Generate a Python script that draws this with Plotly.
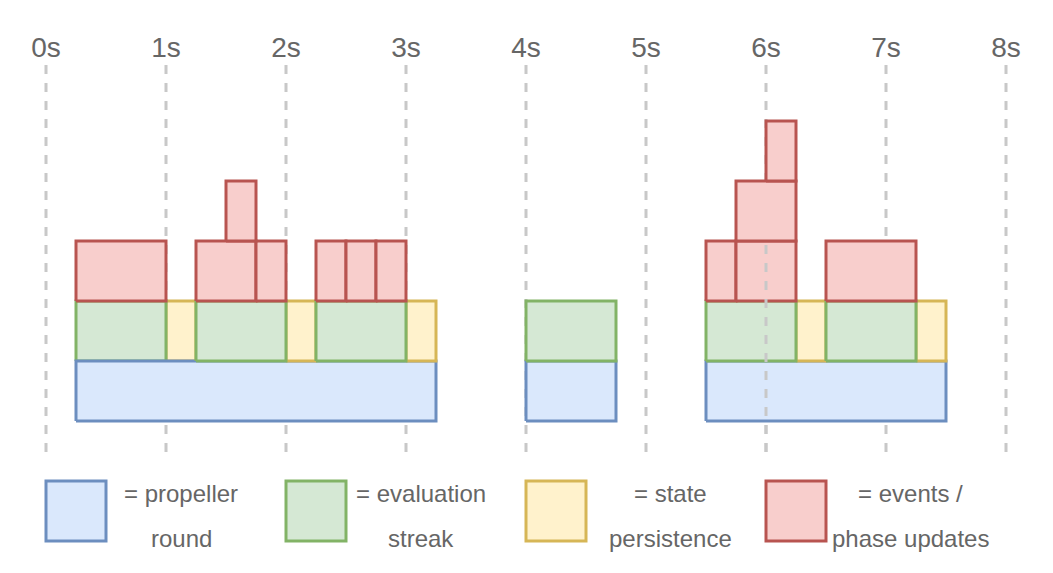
import plotly.graph_objects as go

# ---- data (seconds on the timeline, stacked rows) ----
seconds = [0, 1, 2, 3, 4, 5, 6, 7, 8]
tick_text = [f"{s}s" for s in seconds]

round_start = [0.25, 4.0, 5.5]
round_end = [3.25, 4.75, 7.5]

streak_start = [0.25, 1.25, 2.25, 4.0, 5.5, 6.5]
streak_end = [1.0, 2.0, 3.0, 4.75, 6.25, 7.25]

persist_start = [1.0, 2.0, 3.0, 6.25, 7.25]
persist_end = [1.25, 2.25, 3.25, 6.5, 7.5]

event_start = [0.25, 1.25, 1.75, 2.25, 2.5, 2.75, 1.5, 5.5, 5.75, 6.5, 5.75, 6.0]
event_end = [1.0, 1.75, 2.0, 2.5, 2.75, 3.0, 1.75, 5.75, 6.25, 7.25, 6.25, 6.25]
event_level = [1, 1, 1, 1, 1, 1, 2, 1, 1, 1, 2, 3]

legend_lines = [
    ["= propeller", "round"],
    ["= evaluation", "streak"],
    ["= state", "persistence"],
    ["= events /", "phase updates"],
]

# ---- styles ----
STYLE = {
    "round": ("#dae8fc", "#6c8ebf"),
    "streak": ("#d5e8d4", "#82b366"),
    "persist": ("#fff2cc", "#d6b656"),
    "event": ("#f8cecc", "#b85450"),
}
TEXT = "#666666"
FONT = "Liberation Sans, Arial, sans-serif"

fig = go.Figure()


def add_box(x0, x1, y0, y1, kind):
    fill, stroke = STYLE[kind]
    fig.add_trace(go.Scatter(
        x=[x0, x1, x1, x0, x0], y=[y0, y0, y1, y1, y0],
        mode="lines", fill="toself", fillcolor=fill,
        line=dict(color=stroke, width=3), hoverinfo="skip", showlegend=False,
    ))


# row 0: propeller rounds, row 1: streaks / persistence, rows 2+: events
add_box(persist_start[0], persist_end[0], 1, 2, "persist")
add_box(streak_start[0], streak_end[0], 1, 2, "streak")
for s, e in zip(round_start, round_end):
    add_box(s, e, 0, 1, "round")
for s, e in zip(persist_start[1:], persist_end[1:]):
    add_box(s, e, 1, 2, "persist")
for s, e in zip(streak_start[1:], streak_end[1:]):
    add_box(s, e, 1, 2, "streak")
for s, e, lv in zip(event_start, event_end, event_level):
    add_box(s, e, lv + 1, lv + 2, "event")

# page body has an 8px margin: figure pixel = screen pixel - 8
W, H = 1045, 565
X0, Y0 = 38, 413          # figure pixel of t=0 and of row 0 bottom
PX_S, PX_ROW = 120, 60    # pixels per second / per row
TOP = 56

# dashed second markers
LINE_TOP, LINE_BOT = (Y0 - 57) / PX_ROW, (Y0 - 444) / PX_ROW
for s in seconds:
    fig.add_shape(type="line", xref="x", yref="y", x0=s, x1=s, y0=LINE_BOT, y1=LINE_TOP,
                  line=dict(color="#c8c8c8", width=3, dash="9px,9px"), layer="below")
# the 6s marker is drawn over the lower stack in the reference
fig.add_shape(type="line", xref="x", yref="y", x0=seconds[6], x1=seconds[6], y0=LINE_BOT, y1=3,
              line=dict(color="#c8c8c8", width=3, dash="9px,9px"), layer="above")

# legend keys + text
key_x = [0, 2, 4, 6]
text_x = [1.125, 3.125, 5.2, 7.2]
for kx, tx, kind, lines in zip(key_x, text_x, ["round", "streak", "persist", "event"], legend_lines):
    fill, stroke = STYLE[kind]
    fig.add_shape(type="rect", xref="x", yref="y", x0=kx, x1=kx + 0.5, y0=-2, y1=-1,
                  fillcolor=fill, line=dict(color=stroke, width=3))
    fig.add_annotation(x=tx, y=-1.2, text=lines[0], showarrow=False, xref="x", yref="y",
                       font=dict(size=24, color=TEXT, family=FONT), xanchor="center", yanchor="middle")
    fig.add_annotation(x=tx, y=-1.95, text=lines[1], showarrow=False, xref="x", yref="y",
                       font=dict(size=24, color=TEXT, family=FONT), xanchor="center", yanchor="middle")

fig.update_layout(
    width=W, height=H,
    margin=dict(l=0, r=0, t=TOP, b=0, autoexpand=False),
    paper_bgcolor="white", plot_bgcolor="white",
    xaxis=dict(range=[-X0 / PX_S, (W - X0) / PX_S], side="top", tickvals=seconds, ticktext=tick_text,
               showgrid=False, zeroline=False, showline=False, ticks="", automargin=False,
               tickfont=dict(size=28, color=TEXT, family=FONT), fixedrange=True),
    yaxis=dict(range=[(Y0 - H) / PX_ROW, (Y0 - TOP) / PX_ROW], showgrid=False, zeroline=False,
               automargin=False, showticklabels=False, showline=False, ticks="", fixedrange=True),
    font=dict(family=FONT, color=TEXT),
)

fig.write_html("out.html")
